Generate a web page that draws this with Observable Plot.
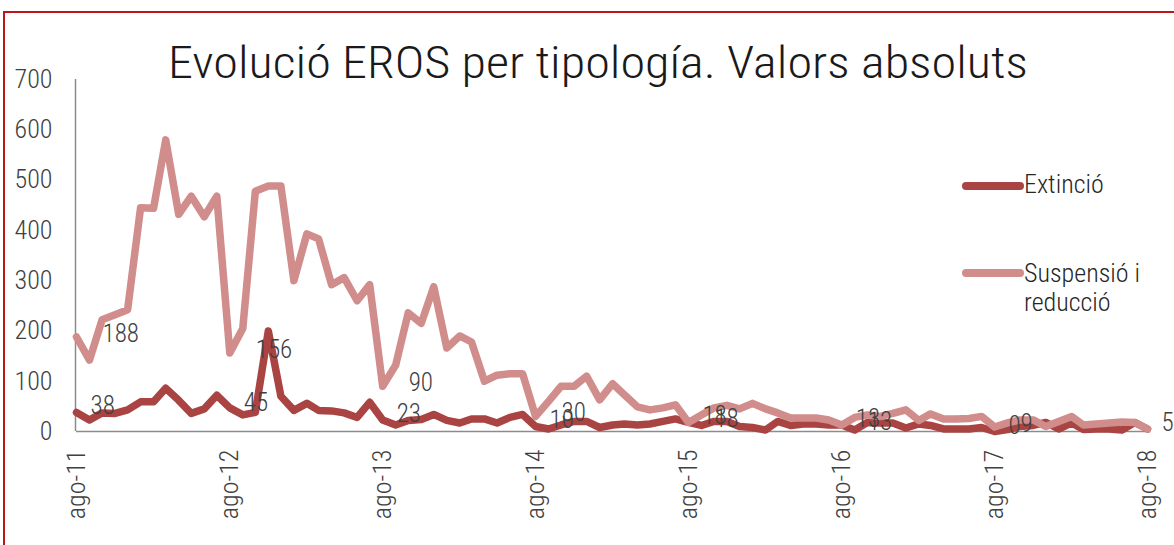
<!DOCTYPE html>
<html><head><meta charset="utf-8">
<script src="https://cdn.jsdelivr.net/npm/d3@7"></script>
<script src="https://cdn.jsdelivr.net/npm/@observablehq/plot@0.6"></script>
<style>
body{margin:0;background:#fff;}
#wrap{position:relative;width:1174px;height:545px;overflow:hidden;font-family:"Roboto Condensed","DejaVu Sans Condensed",sans-serif;font-weight:300;}
#chart{position:absolute;left:0;top:0;}
#overlay{position:absolute;left:0;top:0;pointer-events:none;}
#overlay text{font-family:"Roboto Condensed","DejaVu Sans Condensed",sans-serif;font-weight:300;}
</style>
</head><body>
<div id="wrap"><div id="chart"></div>
<svg id="overlay" width="1174" height="545">
  <rect x="4" y="12" width="1200" height="600" fill="none" stroke="#c0141b" stroke-width="2"></rect>
  <text x="598" y="78" text-anchor="middle" font-size="45" fill="#1a1a1a" textLength="860" lengthAdjust="spacingAndGlyphs">Evolució EROS per tipología. Valors absoluts</text>
  <line x1="966" y1="186" x2="1020" y2="186" stroke="#a94442" stroke-width="8" stroke-linecap="round"></line>
  <text x="1024" y="193" font-size="26" fill="#262626">Extinció</text>
  <line x1="966" y1="273" x2="1020" y2="273" stroke="#d08d8c" stroke-width="8" stroke-linecap="round"></line>
  <text x="1024" y="282" font-size="26" fill="#262626">Suspensió i</text>
  <text x="1024" y="311" font-size="26" fill="#262626">reducció</text>
</svg>
</div>
<script>
// Monthly series, ago-11 .. ago-18 (85 months)
const extincio = [38,23,37,36,43,59,59,86,62,36,45,72,47,33,38,200,70,42,56,42,41,37,28,58,
  23,13,22,24,34,22,17,25,25,17,28,34,
  10,5,13,20,20,8,13,15,13,15,20,25,
  18,12,20,20,10,8,3,20,12,15,15,13,
  13,3,18,17,17,7,15,12,5,5,5,8,
  0,4,10,12,18,5,17,4,5,5,3,18,
  5];
const suspensio = [188,142,222,232,242,445,444,580,432,468,427,468,
  156,205,478,488,488,300,393,383,292,306,260,292,
  90,132,236,215,288,166,190,178,100,112,115,115,
  30,60,90,90,110,63,95,73,49,43,47,53,
  18,33,47,52,45,56,45,37,27,27,27,23,
  13,28,33,30,36,43,22,35,25,25,26,30,
  9,17,23,23,10,20,30,13,15,17,19,18,
  5];
const tickLabels = ["ago-11","ago-12","ago-13","ago-14","ago-15","ago-16","ago-17","ago-18"];
const extLabels = [38,45,23,10,18,13,0,5];
const susLabels = [188,156,90,30,18,13,9,5];
const yTicks = [0,100,200,300,400,500,600,700];

const start = new Date(Date.UTC(2011,7,1));
const months = extincio.map((_, i) => d3.utcMonth.offset(start, i));
const augusts = tickLabels.map((_, i) => d3.utcYear.offset(start, i));

const extData = extincio.map((v, i) => ({date: months[i], value: v}));
const susData = suspensio.map((v, i) => ({date: months[i], value: v}));
const extLab = extLabels.map((v, i) => ({date: augusts[i], value: v}));
const susLab = susLabels.map((v, i) => ({date: augusts[i], value: v}));

const font = "Roboto Condensed, DejaVu Sans Condensed, sans-serif";
const chart = Plot.plot({
  width: 1174, height: 545,
  marginLeft: 76, marginRight: 27, marginTop: 79, marginBottom: 114,
  style: {fontFamily: font, fontWeight: 300, background: "transparent", overflow: "visible"},
  x: {type: "utc", domain: [months[0], months[months.length - 1]]},
  y: {domain: [0, 700]},
  marks: [
    Plot.axisY({ticks: yTicks, tickSize: 0, tickPadding: 24, fontSize: 26, color: "#404040", label: null}),
    Plot.axisX({ticks: augusts, tickFormat: (d, i) => tickLabels[i], tickRotate: -90, tickSize: 0, tickPadding: 18, fontSize: 26, color: "#404040", label: null}),
    Plot.ruleX([months[0]], {y1: 0, y2: 700, stroke: "#8c8c8c", strokeWidth: 1.5, dx: -1}),
    Plot.ruleY([0], {stroke: "#8c8c8c", strokeWidth: 1.5}),
    Plot.line(extData, {x: "date", y: "value", stroke: "#a94442", strokeWidth: 7.5, strokeLinejoin: "round", strokeLinecap: "round"}),
    Plot.line(susData, {x: "date", y: "value", stroke: "#d08d8c", strokeWidth: 7.5, strokeLinejoin: "round", strokeLinecap: "round"}),
    Plot.text(extLab, {x: "date", y: "value", text: d => String(d.value), textAnchor: "start", dx: 14, dy: -6, fontSize: 25, fill: "#404040"}),
    Plot.text(susLab, {x: "date", y: "value", text: d => String(d.value), textAnchor: "start", dx: 26, dy: -3, fontSize: 25, fill: "#404040"})
  ]
});
document.getElementById("chart").appendChild(chart);
</script>
</body></html>
